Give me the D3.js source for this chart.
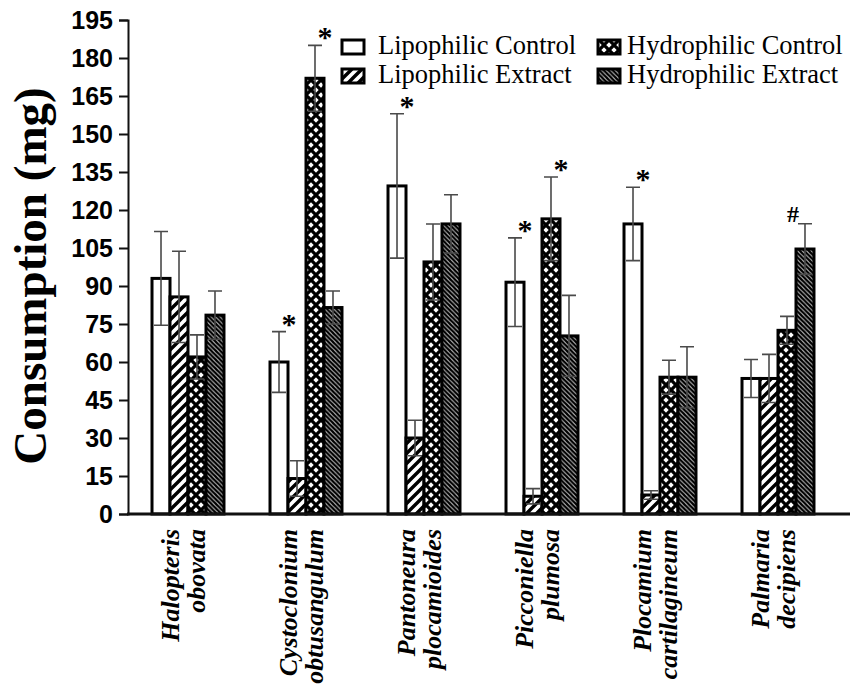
<!DOCTYPE html>
<html>
<head>
<meta charset="utf-8">
<script src="https://cdn.jsdelivr.net/npm/d3@7"></script>
<style>
  body { margin: 0; background: #fff; }
  svg { display: block; }
</style>
</head>
<body>
<svg id="chart" width="856" height="690"></svg>
<script>
const species = [
  ["Halopteris", "obovata"],
  ["Cystoclonium", "obtusangulum"],
  ["Pantoneura", "plocamioides"],
  ["Picconiella", "plumosa"],
  ["Plocamium", "cartilagineum"],
  ["Palmaria", "decipiens"]
];
const seriesNames = ["Lipophilic Control", "Lipophilic Extract", "Hydrophilic Control", "Hydrophilic Extract"];

const lipoControl = [93, 60, 129.5, 91.5, 114.5, 53.5];
const lipoControlErr = [18.5, 12, 28.5, 17.5, 14.5, 7.5];
const lipoExtract = [85.7, 14, 30, 7, 7.5, 53.5];
const lipoExtractErr = [18, 7, 7, 3, 1.7, 9.5];
const hydroControl = [62, 172, 99.5, 116.5, 54, 72.5];
const hydroControlErr = [8.7, 13, 15, 16.5, 6.7, 5.5];
const hydroExtract = [78.5, 81.5, 114.5, 70.3, 54, 104.6];
const hydroExtractErr = [9.5, 6.5, 11.5, 16, 12, 10];

const yTicks = d3.range(0, 196, 15);

// significance marks: [species index, series index, symbol]
const marks = [
  [1, 0, "*"], [1, 2, "*"], [2, 0, "*"], [3, 0, "*"], [3, 2, "*"], [4, 0, "*"], [5, 3, "#"]
];

const values = [lipoControl, lipoExtract, hydroControl, hydroExtract];
const errors = [lipoControlErr, lipoExtractErr, hydroControlErr, hydroExtractErr];
const fills = ["url(#lipoCtl)", "url(#lipoExt)", "url(#hydroCtl)", "url(#hydroExt)"];

const svg = d3.select("#chart");

// patterns
const defs = svg.append("defs");
const p1 = defs.append("pattern").attr("id", "lipoCtl").attr("patternUnits", "userSpaceOnUse")
  .attr("width", 4).attr("height", 4);
p1.append("rect").attr("width", 4).attr("height", 4).attr("fill", "#fff");

const s2 = 10;
const p2 = defs.append("pattern").attr("id", "lipoExt").attr("patternUnits", "userSpaceOnUse")
  .attr("width", s2).attr("height", s2);
p2.append("rect").attr("width", s2).attr("height", s2).attr("fill", "#fff");
p2.append("path")
  .attr("d", `M0,${s2} L${s2},0 M-2,2 L2,-2 M${s2 - 2},${s2 + 2} L${s2 + 2},${s2 - 2}`)
  .attr("stroke", "#000").attr("stroke-width", 3.4);

const s3 = 10;
const p3 = defs.append("pattern").attr("id", "hydroCtl").attr("patternUnits", "userSpaceOnUse")
  .attr("width", s3).attr("height", s3).attr("x", 1);
p3.append("rect").attr("width", s3).attr("height", s3).attr("fill", "#fff");
p3.append("path")
  .attr("d", `M0,0 L${s3},${s3} M${s3},0 L0,${s3}`)
  .attr("stroke", "#000").attr("stroke-width", 3.3);

const s4 = 4.5;
const p4 = defs.append("pattern").attr("id", "hydroExt").attr("patternUnits", "userSpaceOnUse")
  .attr("width", s4).attr("height", s4);
p4.append("rect").attr("width", s4).attr("height", s4).attr("fill", "#fff");
p4.append("path")
  .attr("d", `M0,0 L${s4},${s4} M-1,${s4 - 1} L1,${s4 + 1} M${s4 - 1},-1 L${s4 + 1},1`)
  .attr("stroke", "#000").attr("stroke-width", 2.4);

// scales
const y = d3.scaleLinear().domain([0, 195]).range([514, 20]);
const x0 = d3.scaleBand().domain(d3.range(species.length)).range([129, 837])
  .paddingInner(0.39).paddingOuter(0.195);
const x1 = d3.scaleBand().domain(d3.range(4)).range([0, x0.bandwidth()]);

const rows = [];
species.forEach((s, i) => {
  values.forEach((v, k) => rows.push({ i, k, v: v[i], e: errors[k][i] }));
});

// bars
const bars = svg.append("g").attr("class", "bars");
bars.selectAll("rect")
  .data(rows)
  .join("rect")
  .attr("x", d => x0(d.i) + x1(d.k))
  .attr("y", d => y(d.v))
  .attr("width", x1.bandwidth())
  .attr("height", d => y(0) - y(d.v))
  .attr("fill", d => fills[d.k])
  .attr("stroke", "#000")
  .attr("stroke-width", 3);

// error bars
const capW = 14;
const eb = svg.append("g").attr("class", "errors")
  .attr("stroke", "#4a4a4a").attr("stroke-width", 1.6).attr("fill", "none");
const cx = d => x0(d.i) + x1(d.k) + x1.bandwidth() / 2;
eb.selectAll("path")
  .data(rows)
  .join("path")
  .attr("d", d => {
    const t = y(d.v + d.e), b = y(d.v - d.e), c = cx(d);
    return `M${c},${t}V${b}M${c - capW / 2},${t}H${c + capW / 2}M${c - capW / 2},${b}H${c + capW / 2}`;
  });

// significance marks
svg.append("g").selectAll("text")
  .data(marks)
  .join("text")
  .attr("x", m => {
    const d = { i: m[0], k: m[1] };
    return cx(d) + (m[2] === "#" ? -12 : 10);
  })
  .attr("y", m => y(values[m[1]][m[0]] + errors[m[1]][m[0]]) + (m[2] === "#" ? -2 : 2))
  .attr("text-anchor", "middle")
  .attr("font-family", "'Liberation Serif', 'Times New Roman', serif")
  .attr("font-size", m => m[2] === "#" ? 24 : 30)
  .attr("font-weight", "bold")
  .text(m => m[2]);

// y axis
const yAxis = svg.append("g").attr("transform", "translate(128,0)")
  .call(d3.axisLeft(y).tickValues(yTicks).tickSize(9).tickPadding(6).tickFormat(d3.format("d")));
yAxis.select(".domain").attr("stroke", "#111").attr("stroke-width", 2);
yAxis.selectAll(".tick line").attr("stroke", "#111").attr("stroke-width", 2);
yAxis.selectAll(".tick text")
  .attr("font-family", "'Liberation Sans', Arial, sans-serif")
  .attr("font-weight", "bold")
  .attr("font-size", 25)
  .attr("fill", "#000");

// x axis line
svg.append("line")
  .attr("x1", 127).attr("x2", 850)
  .attr("y1", y(0)).attr("y2", y(0))
  .attr("stroke", "#111").attr("stroke-width", 3);

// x labels
const xl = svg.append("g").selectAll("text")
  .data(species)
  .join("text")
  .attr("transform", (d, i) => `translate(${x0(i) + x0.bandwidth() / 2},529) rotate(-90)`)
  .attr("text-anchor", "end")
  .attr("font-family", "'Liberation Serif', 'Times New Roman', serif")
  .attr("font-weight", "bold")
  .attr("font-style", "italic")
  .attr("font-size", 26);
xl.selectAll("tspan")
  .data(d => d)
  .join("tspan")
  .attr("x", 0)
  .attr("y", (d, j) => j === 0 ? -9 : 17)
  .text(d => d);

// y label
svg.append("text")
  .attr("transform", "translate(46,276) rotate(-90)")
  .attr("text-anchor", "middle")
  .attr("font-family", "'Liberation Serif', 'Times New Roman', serif")
  .attr("font-weight", "bold")
  .attr("font-size", 47)
  .text("Consumption (mg)");

// legend
const legendPos = [[342, 40], [342, 69], [598, 40], [598, 69]];
const lg = svg.append("g").selectAll("g")
  .data(seriesNames)
  .join("g")
  .attr("transform", (d, k) => `translate(${legendPos[k][0]},${legendPos[k][1]})`);
lg.append("rect")
  .attr("width", 22).attr("height", 14)
  .attr("fill", (d, k) => fills[k])
  .attr("stroke", "#000").attr("stroke-width", 3);
lg.append("text")
  .attr("x", (d, k) => k < 2 ? 36 : 29)
  .attr("y", 14)
  .attr("font-family", "'Liberation Serif', 'Times New Roman', serif")
  .attr("font-size", 26.5)
  .text(d => d);
</script>
</body>
</html>
